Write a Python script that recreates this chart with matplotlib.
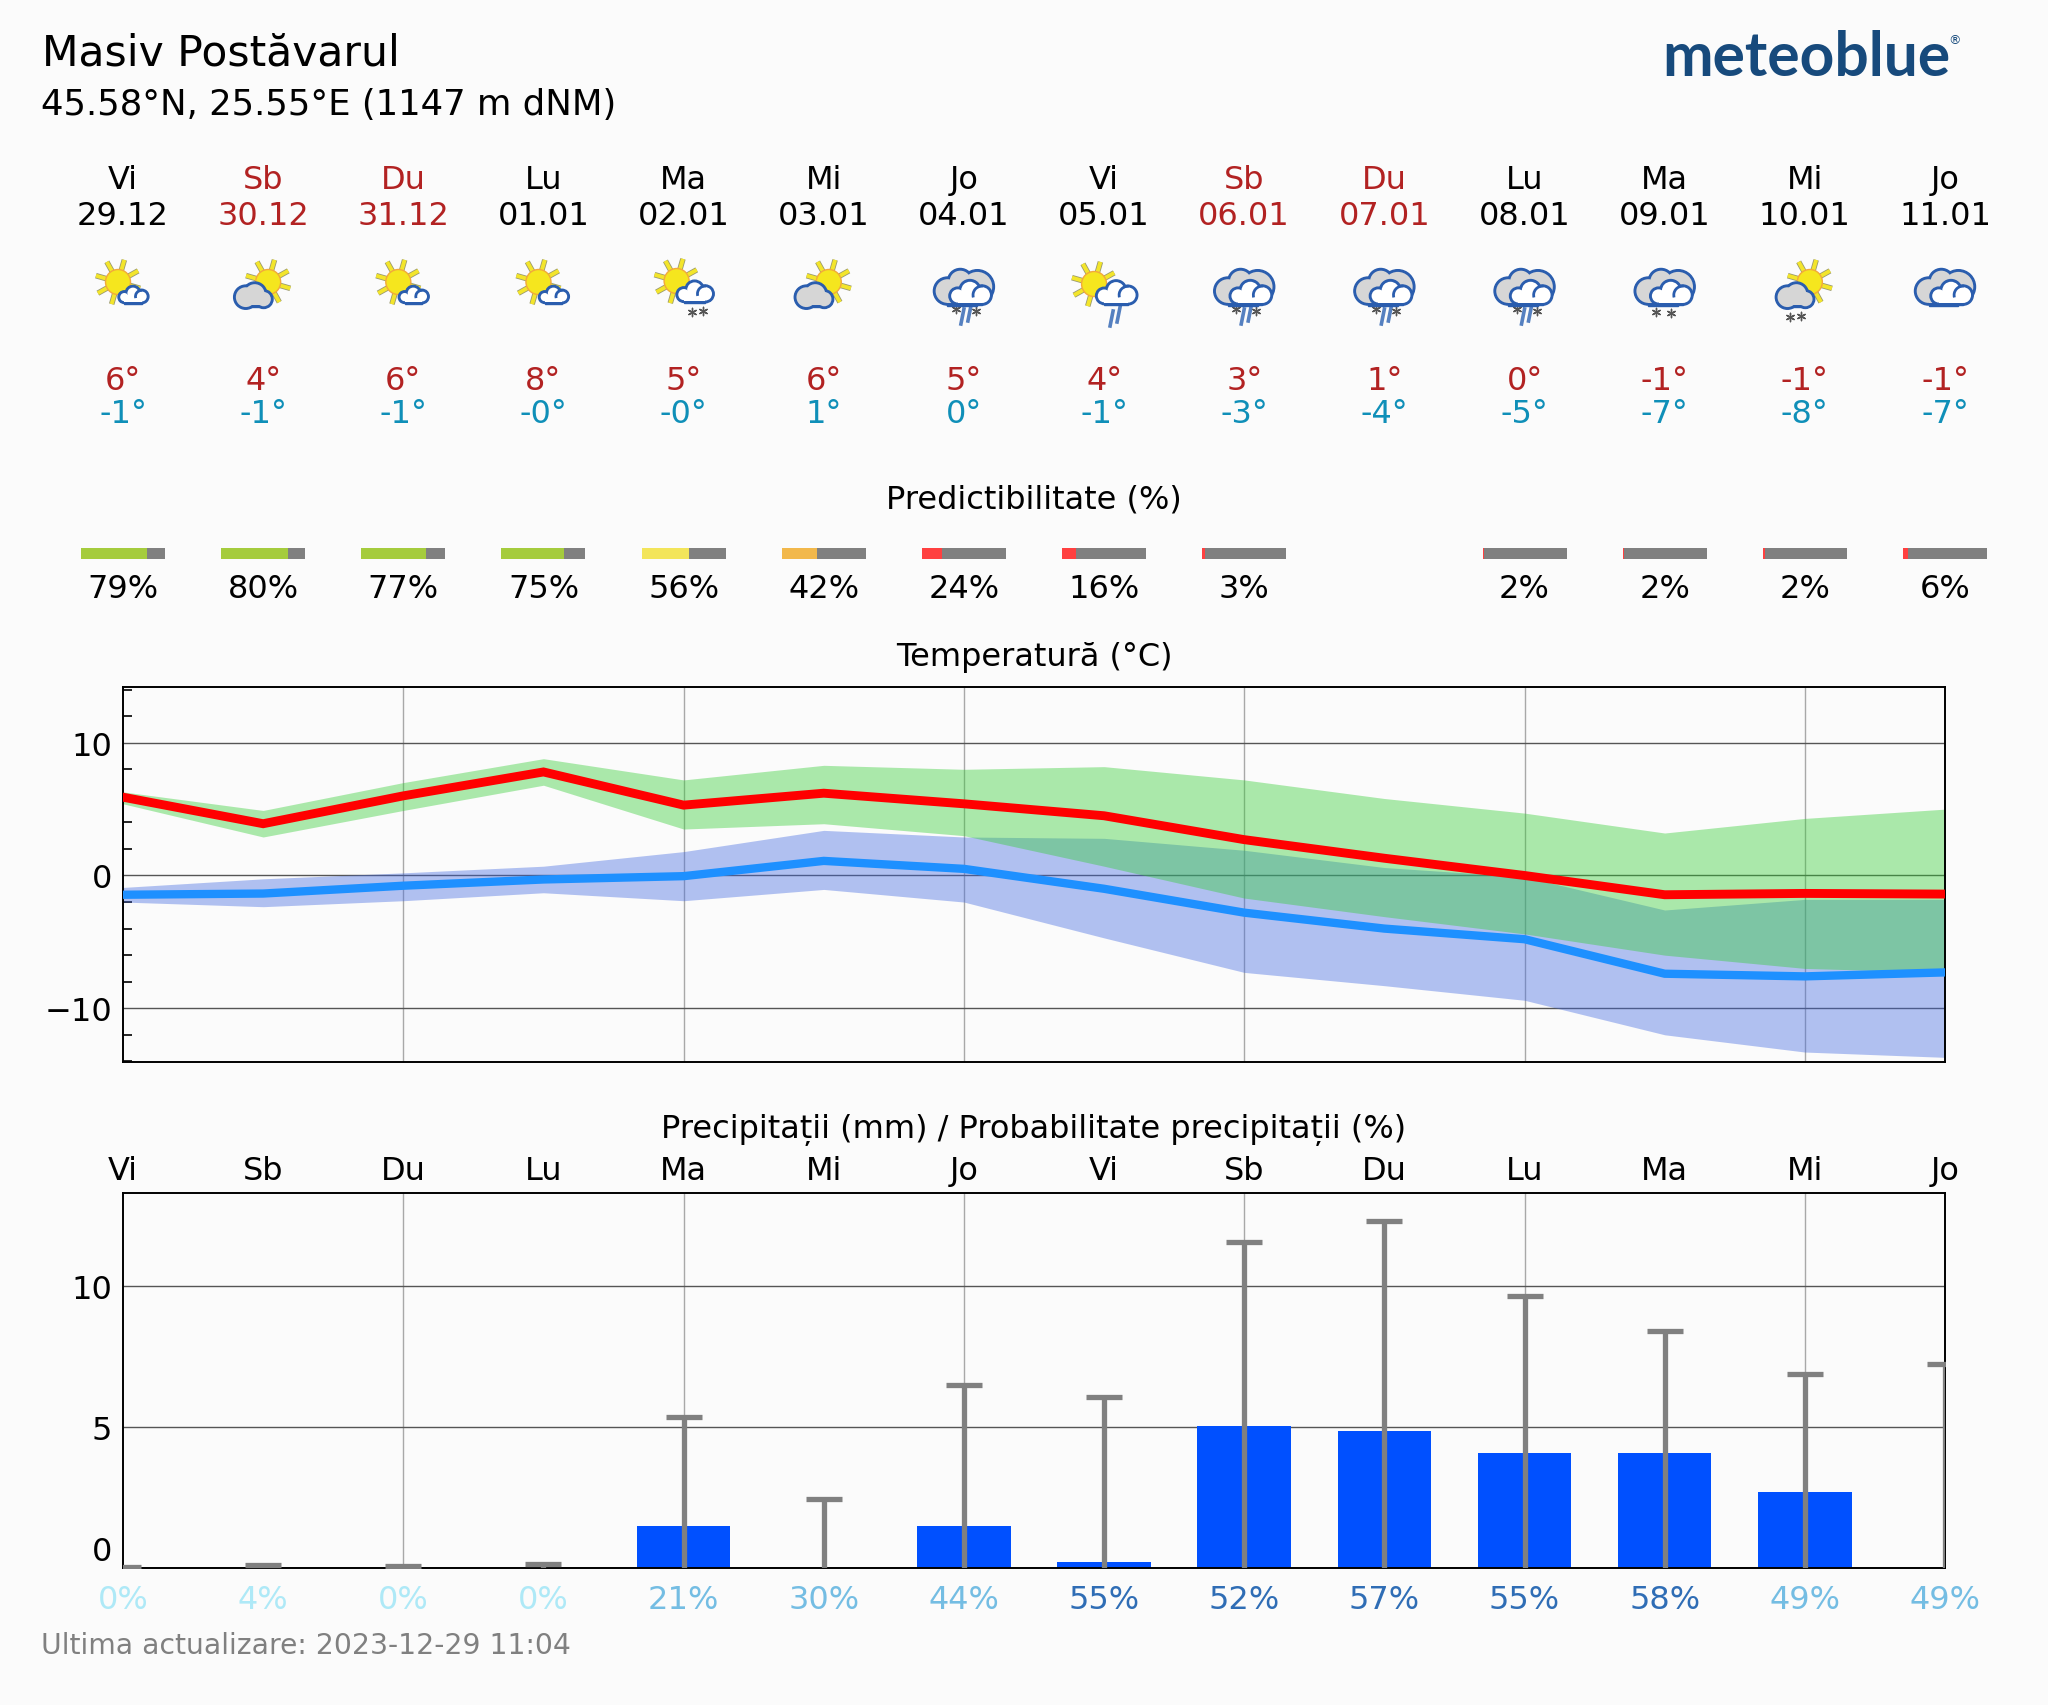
import math
import numpy as np
import matplotlib
matplotlib.use('Agg')
import matplotlib.pyplot as plt
import matplotlib.patches as mpatches
from matplotlib.transforms import ScaledTranslation

BG = '#FBFBFB'
W, H = 2048, 1706
FS = 11.5

days = ['Vi', 'Sb', 'Du', 'Lu', 'Ma', 'Mi', 'Jo', 'Vi', 'Sb', 'Du', 'Lu', 'Ma', 'Mi', 'Jo']
dates = ['29.12', '30.12', '31.12', '01.01', '02.01', '03.01', '04.01', '05.01', '06.01', '07.01',
         '08.01', '09.01', '10.01', '11.01']
icons = ['sun_white', 'sun_grey', 'sun_white', 'sun_white', 'sun_white_snow', 'sun_grey', 'clouds_mix',
         'sun_white_rain', 'clouds_mix', 'clouds_mix', 'clouds_mix', 'clouds_snow', 'sun_grey_snow', 'clouds']
max_labels = ['6°', '4°', '6°', '8°', '5°', '6°', '5°', '4°', '3°', '1°', '0°', '-1°', '-1°', '-1°']
min_labels = ['-1°', '-1°', '-1°', '-0°', '-0°', '1°', '0°', '-1°', '-3°', '-4°', '-5°', '-7°', '-8°', '-7°']
predict = [79, 80, 77, 75, 56, 42, 24, 16, 3, None, 2, 2, 2, 6]

t_max = [5.9, 3.9, 6.0, 7.8, 5.3, 6.2, 5.4, 4.5, 2.7, 1.3, 0.0, -1.45, -1.35, -1.4]
t_max_hi = [6.3, 4.9, 7.0, 8.8, 7.2, 8.3, 8.0, 8.2, 7.2, 5.8, 4.7, 3.2, 4.3, 5.0]
t_max_lo = [5.4, 2.9, 4.9, 6.8, 3.5, 3.9, 3.0, 0.7, -1.7, -3.1, -4.4, -6.0, -7.0, -7.3]
t_min = [-1.45, -1.36, -0.77, -0.3, -0.05, 1.1, 0.5, -1.0, -2.8, -4.0, -4.8, -7.4, -7.6, -7.3]
t_min_hi = [-0.9, -0.25, 0.2, 0.7, 1.8, 3.4, 2.9, 2.8, 1.9, 0.6, -0.1, -2.6, -1.8, -1.8]
t_min_lo = [-2.0, -2.35, -1.9, -1.3, -1.9, -1.05, -2.0, -4.7, -7.3, -8.3, -9.4, -12.0, -13.3, -13.7]

rain = [0, 0, 0, 0, 1.5, 0, 1.5, 0.2, 5.05, 4.87, 4.07, 4.07, 2.7, 0]
rain_top = [0.05, 0.1, 0.07, 0.15, 5.35, 2.45, 6.5, 6.05, 11.55, 12.3, 9.65, 8.4, 6.87, 7.25]
rain_prob = [0, 4, 0, 0, 21, 30, 44, 55, 52, 57, 55, 58, 49, 49]


def x_day(i):
    return 123 + 1822 / 13 * i


def predict_color(p):
    if p >= 70:
        return '#A5CC3D'
    if p >= 50:
        return '#F3E55A'
    if p >= 30:
        return '#F2B84B'
    return '#FF4040'


def prob_color(p):
    if p < 10:
        return '#AEE9F7'
    if p < 50:
        return '#74BDE3'
    return '#2F6DB5'


fig = plt.figure(figsize=(W / 200, H / 200), dpi=200, facecolor=BG)

# strat de sus, in pixeli
ov = fig.add_axes([0, 0, 1, 1])
ov.set_xlim(0, W)
ov.set_ylim(H, 0)
ov.axis('off')

EDGE = '#2A5DAE'
FRONT = [(-0.29, 0.07, 0.21), (0.0, -0.06, 0.26), (0.29, 0.05, 0.24)]
BACK = [(-0.27, 0.05, 0.23), (-0.06, -0.11, 0.21), (0.22, -0.02, 0.28)]
GREY = [(-0.19, 0.03, 0.31), (0.04, -0.05, 0.31), (0.27, 0.08, 0.24)]


def cloud(cx, cy, w, fc, z, lobes=FRONT, curl=True):
    parts = [(cx + a * w, cy + b * w, r * w) for a, b, r in lobes]
    left, right = parts[0][0], parts[2][0]
    bottom = cy + 0.29 * w
    for px, py, r in parts:
        ov.add_patch(mpatches.Circle((px, py), r, fc=EDGE, ec=EDGE, lw=0.5, zorder=z))
    ov.add_patch(mpatches.Rectangle((left, cy), right - left, bottom - cy, fc=EDGE, ec=EDGE, lw=0.5, zorder=z))
    for px, py, r in parts:
        ov.add_patch(mpatches.Circle((px, py), r - 2.2, fc=fc, ec='none', zorder=z + 0.1))
    ov.add_patch(mpatches.Rectangle((left, cy), right - left, bottom - cy - 2.2, fc=fc, ec='none', zorder=z + 0.1))
    if curl:
        px, py, r = parts[2]
        ov.add_patch(mpatches.Arc((px, py), 2 * r - 2, 2 * r - 2, theta1=165, theta2=275, ec=EDGE, lw=1.0, zorder=z + 0.2))


def sun(cx, cy):
    for k in range(8):
        a = math.radians(16 + 45 * k)
        xs = [cx + 11 * math.cos(a), cx + 23 * math.cos(a)]
        ys = [cy + 11 * math.sin(a), cy + 23 * math.sin(a)]
        ov.plot(xs, ys, color='#9A9A70', lw=2.0, solid_capstyle='butt', zorder=3)
        ov.plot(xs, ys, color='#F3E52B', lw=1.4, solid_capstyle='butt', zorder=3.1)
    ov.add_patch(mpatches.Circle((cx, cy), 12.5, fc='#F5E61E', ec='#F2A93B', lw=0.5, zorder=3.2))


def snow(pts):
    for sx, sy in pts:
        ov.scatter([sx], [sy], marker=(6, 2, 0), s=9, color='#555555', lw=0.5, zorder=3.6)


def drops(pts):
    for dx, dy in pts:
        ov.plot([dx, dx + 3], [dy, dy - 15], color='#5580C0', lw=1.3, zorder=3.5)


for i, kind in enumerate(icons):
    x = x_day(i)
    if kind == 'sun_white':
        sun(x - 5, 283)
        cloud(x + 10, 296, 30, 'white', 4)
    elif kind == 'sun_white_snow':
        sun(x - 7, 282)
        cloud(x + 11, 293, 37, 'white', 4)
        snow([(x + 8, 313), (x + 19, 312)])
    elif kind == 'sun_white_rain':
        sun(x - 10, 285)
        cloud(x + 12, 294, 41, 'white', 4)
        drops([(x + 6, 327), (x + 13, 323)])
    elif kind.startswith('sun_grey'):
        sun(x + 5, 283)
        cloud(x - 10, 297, 39, '#D6D6D6', 4, lobes=GREY, curl=False)
        if kind.endswith('_snow'):
            snow([(x - 15, 318), (x - 4, 317)])
    else:
        cloud(x, 289, 61, '#D6D6D6', 4, lobes=BACK, curl=False)
        cloud(x + 6, 294, 42, 'white', 5)
        if kind.endswith('_snow'):
            snow([(x - 9, 313), (x + 6, 314)])
        if kind.endswith('_mix'):
            snow([(x - 8, 310), (x + 12, 312)])
            drops([(x - 3, 325), (x + 4, 322)])

# texte de sus
ov.text(42, 53, 'Masiv Postăvarul', fontsize=15.3, va='center', ha='left')
ov.text(41, 105, '45.58°N, 25.55°E (1147 m dNM)', fontsize=12.8, va='center', ha='left')
ov.text(1662, 58, 'meteoblue', fontsize=21.8, va='center', ha='left', color='#174A7C',
        family='Lato', weight='bold')
ov.text(1955, 41, '®', fontsize=4.5, va='center', ha='center', color='#174A7C')

for i in range(14):
    x = x_day(i)
    c = '#B22222' if days[i] in ('Sb', 'Du') else 'black'
    ov.text(x, 180, days[i], fontsize=FS, ha='center', va='center', color=c)
    ov.text(x, 216, dates[i], fontsize=FS, ha='center', va='center', color=c)
    ov.text(x, 381, max_labels[i], fontsize=FS, ha='center', va='center', color='#B22222')
    ov.text(x, 414, min_labels[i], fontsize=FS, ha='center', va='center', color='#0F8FB8')
    p = predict[i]
    if p is not None:
        ov.barh(554, 84 * p / 100, height=11, left=x - 42, color=predict_color(p), zorder=2)
        ov.barh(554, 84 * (100 - p) / 100, height=11, left=x - 42 + 84 * p / 100, color='#808080', zorder=2)
        ov.text(x, 589, f'{p}%', fontsize=FS, ha='center', va='center')

ov.text(1034, 500, 'Predictibilitate (%)', fontsize=FS, ha='center', va='center')
ov.text(1034, 657, 'Temperatură (°C)', fontsize=FS, ha='center', va='center')
ov.text(1034, 1130, 'Precipitații (mm) / Probabilitate precipitații (%)', fontsize=FS, ha='center', va='center')
ov.text(41, 1646, 'Ultima actualizare: 2023-12-29 11:04', fontsize=10.2, ha='left', va='center', color='#808080')

xs = np.arange(14)

# Temperatura
ax = fig.add_axes([123 / W, (H - 1063) / H, 1822 / W, 375 / H], facecolor=BG)
ax.fill_between(xs, t_min_lo, t_min_hi, color='royalblue', alpha=0.4, lw=0, zorder=2)
ax.fill_between(xs, t_max_lo, t_max_hi, color='limegreen', alpha=0.4, lw=0, zorder=2.1)
ax.plot(xs, t_min, color='#1E90FF', lw=3.0, zorder=3, solid_joinstyle='miter')
ax.plot(xs, t_max, color='red', lw=3.2, zorder=3.1, solid_joinstyle='miter')
ax.set_xlim(0, 13)
ax.set_ylim(-14.05, 14.2)
ax.set_yticks([-10, 0, 10])
ax.set_yticks(range(-14, 15, 2), minor=True)
ax.set_xticks([])
ax.tick_params(axis='y', which='major', length=0, labelsize=FS, pad=4)
ax.tick_params(axis='y', which='minor', direction='in', length=3.3, width=0.6)
ax.grid(axis='y', which='major', color='#555555', lw=0.5, zorder=1)
for i in range(2, 13, 2):
    ax.axvline(i, color='#A8A8A8', lw=0.5, zorder=1)

# Precipitatii
ax2 = fig.add_axes([123 / W, (H - 1569) / H, 1822 / W, 375 / H], facecolor=BG)
ax2.bar(xs, rain, width=0.667, color='#0050FF', zorder=2)
zeros = np.zeros(14)
eb = ax2.errorbar(xs, zeros, yerr=[zeros, rain_top], fmt='none', ecolor='#808080', elinewidth=1.9,
                  capsize=6.5, capthick=1.9, zorder=3)
eb[1][0].set_visible(False)
ax2.set_xlim(0, 13)
ax2.set_ylim(0, 13.3)
ax2.set_yticks([0, 5, 10])
ax2.tick_params(axis='y', length=0, labelsize=FS, pad=4)
ax2.set_xticks(xs)
ax2.set_xticklabels([f'{p}%' for p in rain_prob])
ax2.tick_params(axis='x', length=0, labelsize=FS, pad=5.6)
for lab, p in zip(ax2.get_xticklabels(), rain_prob):
    lab.set_color(prob_color(p))
ax2.grid(axis='y', color='#555555', lw=0.5, zorder=1)
for i in range(2, 13, 2):
    ax2.axvline(i, color='#A8A8A8', lw=0.5, zorder=1)
zero_lab = ax2.get_yticklabels()[0]
zero_lab.set_va('bottom')
zero_lab.set_transform(zero_lab.get_transform() + ScaledTranslation(0, 1 / 200, fig.dpi_scale_trans))

sec = ax2.secondary_xaxis('top')
sec.set_xticks(xs)
sec.set_xticklabels(days)
sec.tick_params(axis='x', length=0, labelsize=FS, pad=2.4)
sec.spines['top'].set_visible(False)

for a in (ax, ax2):
    for s in a.spines.values():
        s.set_linewidth(0.7)

fig.savefig('out.png', dpi=200, facecolor=BG)
print('ok')
